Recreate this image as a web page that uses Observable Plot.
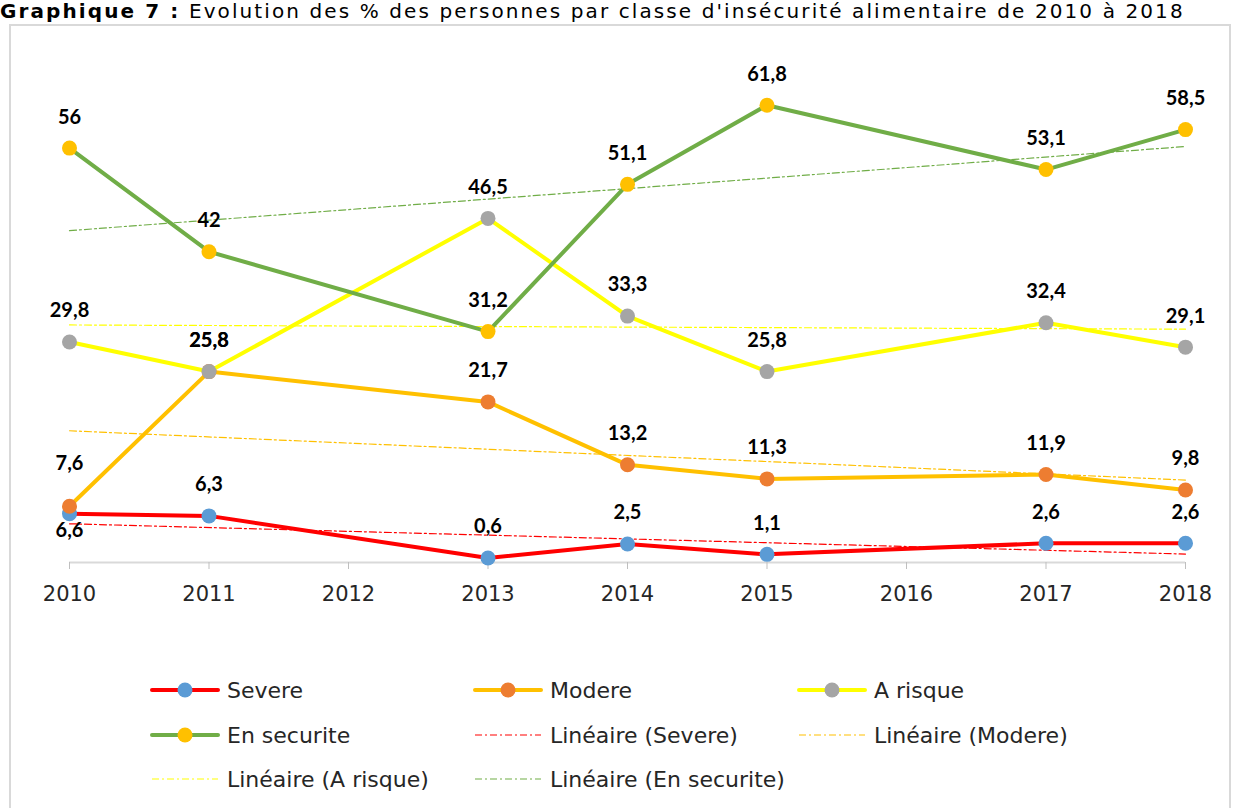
<!DOCTYPE html>
<html>
<head>
<meta charset="utf-8">
<script src="https://cdn.jsdelivr.net/npm/d3@7"></script>
<script src="https://cdn.jsdelivr.net/npm/@observablehq/plot@0.6"></script>
<style>
  html, body { margin: 0; padding: 0; background: #fff; width: 1236px; height: 808px; overflow: hidden; }
  #title { position: absolute; left: 0; top: 1px; font-family: "DejaVu Sans", sans-serif; font-size: 20px; letter-spacing: 2.1px; line-height: 1; white-space: nowrap; color: #000; }
  #frame { position: absolute; left: 9px; top: 24px; width: 1222px; height: 820px; border: 2px solid #d9d9d9; box-sizing: border-box; }
  #chart { position: absolute; left: 0; top: 0; }
  #legend { position: absolute; left: 0; top: 0; font-family: "DejaVu Sans", sans-serif; font-size: 22px; color: #262626; }
  .item { position: absolute; display: flex; align-items: center; height: 30px; white-space: nowrap; }
  .item svg { margin-right: 7px; }
</style>
</head>
<body>
<div id="title"><b>Graphique 7 :</b> Evolution des % des personnes par classe d'insécurité alimentaire de 2010 à 2018</div>
<div id="frame"></div>
<div id="chart"></div>
<div id="legend"></div>
<script>
// ---- data ----
const years = [2010, 2011, 2013, 2014, 2015, 2017, 2018];
const tickYears = [2010, 2011, 2012, 2013, 2014, 2015, 2016, 2017, 2018];
const seriesNames = ["Severe", "Modere", "A risque", "En securite"];
const severe = [6.6, 6.3, 0.6, 2.5, 1.1, 2.6, 2.6];
const modere = [7.6, 25.8, 21.7, 13.2, 11.3, 11.9, 9.8];
const aRisque = [29.8, 25.8, 46.5, 33.3, 25.8, 32.4, 29.1];
const enSecurite = [56, 42, 31.2, 51.1, 61.8, 53.1, 58.5];
const lineColors = ["#FF0000", "#FFC000", "#FFFF00", "#70AD47"];
const markerColors = ["#5B9BD5", "#ED7D31", "#A5A5A5", "#FFC000"];
const trendColors = ["#FF0000", "#FFC000", "#FFFF00", "#70AD47"];
const trendNames = ["Linéaire (Severe)", "Linéaire (Modere)", "Linéaire (A risque)", "Linéaire (En securite)"];

const allValues = [severe, modere, aRisque, enSecurite];
const table = seriesNames.map((s, i) => years.map((yr, j) => ({series: s, idx: i, year: yr, value: allValues[i][j]})));

const fmt = v => String(v).replace(".", ",");
const dash = "7,3,2,3";

const marks = [
  Plot.ruleY([0], {stroke: "#d9d9d9", strokeWidth: 2}),
  Plot.axisX({ticks: tickYears, tickFormat: d => String(d), tickSize: 7, tickPadding: 17, stroke: "#bfbfbf", fill: "#262626", fontSize: 21, label: null})
];
table.forEach((rows, i) => {
  marks.push(Plot.line(rows, {x: "year", y: "value", stroke: lineColors[i], strokeWidth: 4, strokeLinejoin: "round", strokeLinecap: "round"}));
  marks.push(Plot.linearRegressionY(rows, {x: "year", y: "value", stroke: trendColors[i], strokeWidth: 1.2, strokeDasharray: dash, ci: 0}));
  marks.push(Plot.dot(rows, {x: "year", y: "value", r: 7.5, fill: markerColors[i], stroke: "none"}));
});
const labelStyle = {fontFamily: "Lato, 'DejaVu Sans', sans-serif", fontWeight: "bold", fontSize: 20, fill: "#000"};
const flat = table.flat();
const isBelow = d => d.series === "Severe" && d.year === 2010;
const isHigh = d => d.series === "Modere" && d.year === 2010;
marks.push(Plot.text(flat.filter(d => !isBelow(d) && !isHigh(d)), {x: "year", y: "value", text: d => fmt(d.value), dy: -31, ...labelStyle}));
marks.push(Plot.text(flat.filter(isBelow), {x: "year", y: "value", text: d => fmt(d.value), dy: 17, ...labelStyle}));
marks.push(Plot.text(flat.filter(isHigh), {x: "year", y: "value", text: d => fmt(d.value), dy: -43, ...labelStyle}));

const chart = Plot.plot({
  width: 1236,
  height: 640,
  marginLeft: 69,
  marginRight: 51,
  marginTop: 44,
  marginBottom: 78,
  x: {type: "linear", domain: [2010, 2018], label: null},
  y: {domain: [0, 70], axis: null},
  style: {fontFamily: "'DejaVu Sans', sans-serif", fontSize: "21px", background: "transparent", overflow: "visible"},
  marks
});
document.getElementById("chart").appendChild(chart);

// ---- legend ----
const legendItems = [
  {label: seriesNames[0], line: lineColors[0], marker: markerColors[0], col: 0, row: 0},
  {label: seriesNames[1], line: lineColors[1], marker: markerColors[1], col: 1, row: 0},
  {label: seriesNames[2], line: lineColors[2], marker: markerColors[2], col: 2, row: 0},
  {label: seriesNames[3], line: lineColors[3], marker: markerColors[3], col: 0, row: 1},
  {label: trendNames[0], trend: trendColors[0], col: 1, row: 1},
  {label: trendNames[1], trend: trendColors[1], col: 2, row: 1},
  {label: trendNames[2], trend: trendColors[2], col: 0, row: 2},
  {label: trendNames[3], trend: trendColors[3], col: 1, row: 2}
];
const colX = [150, 473, 797];
const rowY = [690, 735, 779];
const legend = document.getElementById("legend");
legendItems.forEach(it => {
  const div = document.createElement("div");
  div.className = "item";
  div.style.left = colX[it.col] + "px";
  div.style.top = (rowY[it.row] - 15) + "px";
  const ns = "http://www.w3.org/2000/svg";
  const svg = document.createElementNS(ns, "svg");
  svg.setAttribute("width", 70); svg.setAttribute("height", 30);
  const ln = document.createElementNS(ns, "line");
  ln.setAttribute("x1", 2); ln.setAttribute("x2", 68); ln.setAttribute("y1", 15); ln.setAttribute("y2", 15);
  if (it.trend) {
    ln.setAttribute("stroke", it.trend); ln.setAttribute("stroke-width", 1.2); ln.setAttribute("stroke-dasharray", dash);
    svg.appendChild(ln);
  } else {
    ln.setAttribute("stroke", it.line); ln.setAttribute("stroke-width", 4); ln.setAttribute("stroke-linecap", "round");
    svg.appendChild(ln);
    const c = document.createElementNS(ns, "circle");
    c.setAttribute("cx", 35); c.setAttribute("cy", 15); c.setAttribute("r", 7.5); c.setAttribute("fill", it.marker);
    svg.appendChild(c);
  }
  div.appendChild(svg);
  const span = document.createElement("span");
  span.textContent = it.label;
  div.appendChild(span);
  legend.appendChild(div);
});
</script>
</body>
</html>
